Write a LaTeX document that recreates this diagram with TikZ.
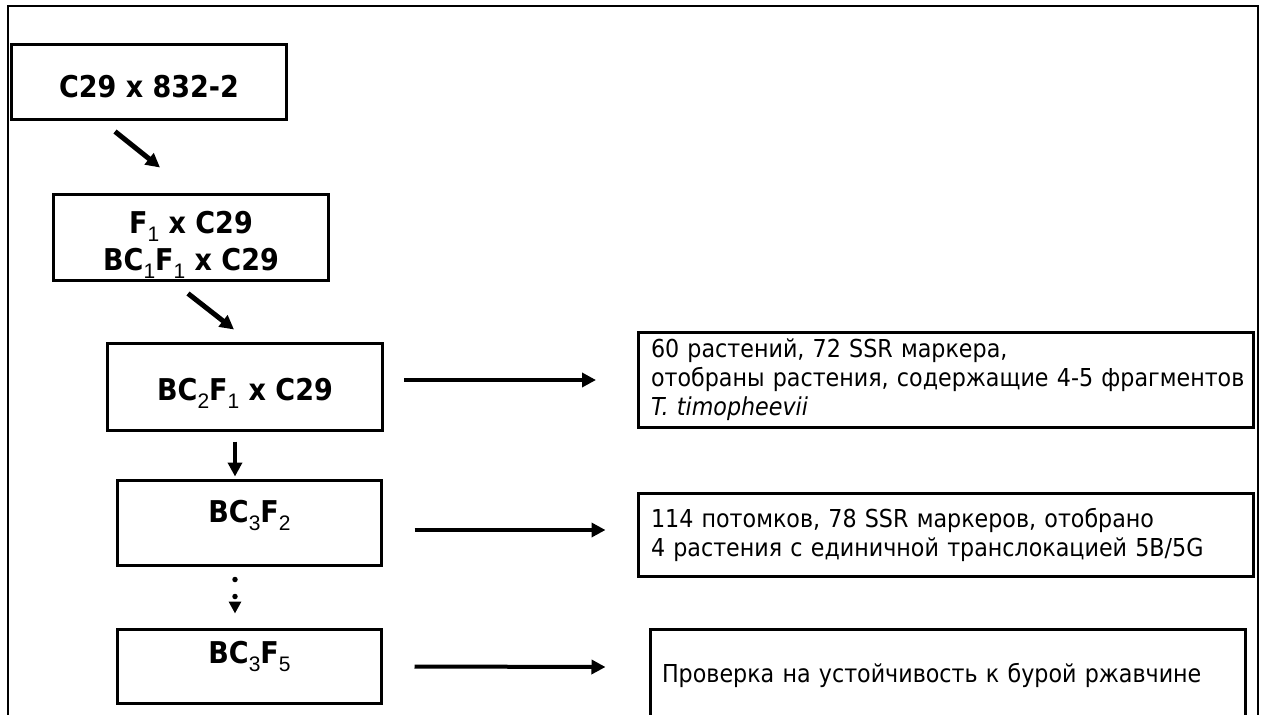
\documentclass[tikz,border=0pt]{standalone}
\usepackage{fontspec}
\setmainfont{DejaVu Sans Condensed}[BoldFont={DejaVu Sans Condensed Bold},
                                    ItalicFont={DejaVu Sans Condensed Oblique}]
\newfontfamily\idxfont{Liberation Sans}
\usetikzlibrary{arrows.meta}
\newcommand{\lowidx}[1]{\raisebox{-8pt}{\idxfont\mdseries\fontsize{21pt}{21pt}\selectfont #1}}
\tikzset{
    box/.style={draw, line width=3pt, inner sep=0pt},
    gen/.style={box, font=\bfseries\fontsize{30pt}{37pt}\selectfont},
    note/.style={box, align=left, inner xsep=12.5pt, text width=590pt,
                 font=\fontsize{24.7pt}{29pt}\selectfont},
    arr/.style={line width=4pt, -{Triangle[length=14pt,width=14pt]}},
}

\begin{document}
\begin{tikzpicture}[x=1pt, y=-1pt]
    \clip (0,0) rectangle (1262,715);
    % frame
    \draw[line width=2pt] (8,740) -- (8,6) -- (1258,6) -- (1258,740);
    % crossings
    \node[gen, minimum width=275pt, minimum height=75pt,
          text height=31pt, text depth=0pt] (cross) at (149,81.5) {C29 x 832-2};
    \node[gen, align=center, minimum width=275pt, minimum height=86pt,
          text height=65pt, text depth=0pt] (bc1) at (191,237.5)
          {F\lowidx{1} x C29\\BC\lowidx{1}F\lowidx{1} x C29};
    \node[gen, minimum width=275pt, minimum height=87pt,
          text height=26pt, text depth=0pt] (bc2) at (245,387) {BC\lowidx{2}F\lowidx{1} x C29};
    \node[gen, minimum width=264pt, minimum height=85pt,
          text height=22pt, text depth=24pt] (bc3) at (249.5,523) {BC\lowidx{3}F\lowidx{2}};
    \node[gen, minimum width=264pt, minimum height=74pt,
          text height=22pt, text depth=29pt] (bc5) at (249.5,666.5) {BC\lowidx{3}F\lowidx{5}};
    % selection
    \node[note, minimum width=615pt, minimum height=95pt] (sel1) at (946,380)
          {60 растений, 72 SSR маркера,\\
           \mbox{отобраны растения, содержащие 4-5 фрагментов}\\
           \textit{T. timopheevii}};
    \node[note, minimum width=615pt, minimum height=83pt] (sel2) at (946,535)
          {114 потомков, 78 SSR маркеров, отобрано\\
           4 растения с единичной транслокацией 5B/5G};
    \node[note, inner xsep=11.5pt, text width=572pt, text height=18pt, text depth=5pt,
          minimum width=595pt, minimum height=92pt] (check) at (948,675.5)
          {Проверка на устойчивость к бурой ржавчине};
    % steps
    \draw[arr, line width=5pt] ([xshift=-34pt,yshift=-11pt]cross.south) -- ([xshift=-31pt,yshift=25.5pt]bc1.north);
    \draw[arr, line width=5pt] ([xshift=-3pt,yshift=-11.5pt]bc1.south) -- ([xshift=-11pt,yshift=12.5pt]bc2.north);
    \draw[arr] ([xshift=-10pt,yshift=-9.5pt]bc2.south) -- ([xshift=-14.5pt,yshift=2.5pt]bc3.north);
    \draw[line width=5.5pt, dash pattern=on 0pt off 17pt, line cap=round,
          -{Triangle[length=12pt,width=12pt]}]
        ([xshift=-14.5pt,yshift=-12.5pt]bc3.south) -- ([xshift=-14.5pt,yshift=14.5pt]bc5.north);
    % results
    \draw[arr] ([xshift=20pt,yshift=7pt]bc2.east) -- ([xshift=-41pt]sel1.west);
    \draw[arr] ([xshift=31.5pt,yshift=-7pt]bc3.east) -- ([xshift=-31.5pt,yshift=5pt]sel2.west);
    \draw[arr] ([xshift=31.5pt]bc5.east) -- ([xshift=-43.5pt,yshift=8.5pt]check.west);
\end{tikzpicture}
\end{document}
